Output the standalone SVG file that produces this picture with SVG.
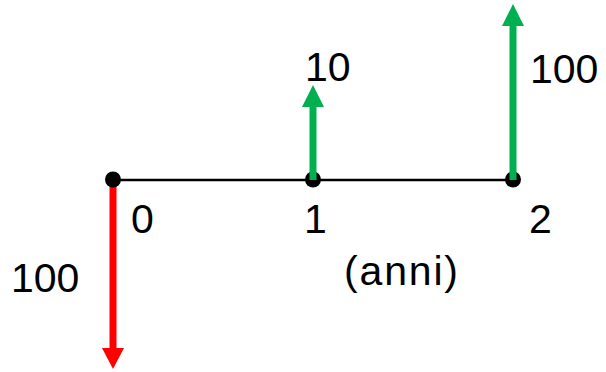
<svg xmlns="http://www.w3.org/2000/svg" width="606" height="372" viewBox="0 0 606 372">
  <style>
    .lbl { font-family: "Liberation Sans", Arial, sans-serif; font-size: 41px; fill: #000; }
    .axis { stroke: #000; stroke-width: 2.5; fill: none; }
    .dot { fill: #000; }
    .red { stroke: #FF0000; stroke-width: 7; fill: none; }
    .redh { fill: #FF0000; }
    .green { stroke: #00B050; stroke-width: 7; fill: none; }
    .greenh { fill: #00B050; }
  </style>
  <rect width="606" height="372" fill="#fff"/>
  <g id="connectors">
    <line class="axis" x1="113" y1="180" x2="513" y2="180"/>
    <g id="arrow-out-0">
      <line class="red" x1="113" y1="180" x2="113" y2="349"/>
      <polygon class="redh" points="102,348 124,348 113,369"/>
    </g>
  </g>
  <g id="node-0">
    <circle class="dot" cx="113" cy="179.5" r="8"/>
    <text class="lbl" x="131" y="233">0</text>
  </g>
  <g id="node-1">
    <circle class="dot" cx="313" cy="179.5" r="8"/>
    <text class="lbl" x="304" y="233">1</text>
  </g>
  <g id="node-2">
    <circle class="dot" cx="513" cy="179.5" r="8"/>
    <text class="lbl" x="529" y="233">2</text>
  </g>
  <g id="flows">
    <g id="arrow-in-1">
      <line class="green" x1="313" y1="180" x2="313" y2="106"/>
      <polygon class="greenh" points="302,107 324,107 313,85"/>
    </g>
    <g id="arrow-in-2">
      <line class="green" x1="513" y1="180" x2="513" y2="25"/>
      <polygon class="greenh" points="502,26 524,26 513,4"/>
    </g>
  </g>
  <g id="labels">
    <text class="lbl" x="305" y="81">10</text>
    <text class="lbl" x="530" y="83">100</text>
    <text class="lbl" x="11" y="292">100</text>
    <text class="lbl" x="344" y="285" textLength="114" lengthAdjust="spacing">(anni)</text>
  </g>
</svg>
